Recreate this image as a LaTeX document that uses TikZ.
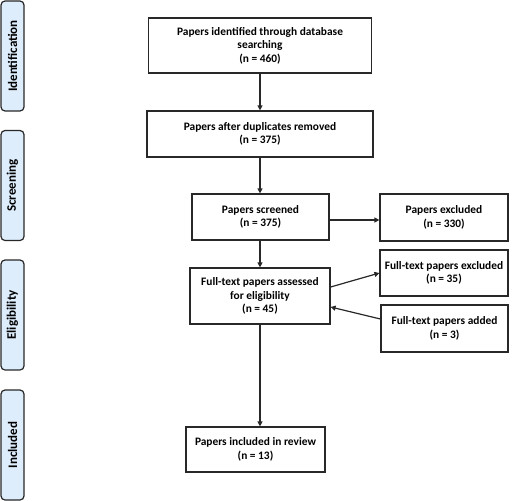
\documentclass[tikz,border=0pt]{standalone}
\usepackage{fontspec}
\setmainfont{Carlito}
\usetikzlibrary{arrows.meta}
\definecolor{sidefill}{RGB}{221,237,252}
\definecolor{boxline}{RGB}{40,40,40}
\begin{document}
\begin{tikzpicture}[x=1pt,y=-1pt,
  flowbox/.style={draw=boxline,line width=1.2pt,fill=white,align=center,inner sep=2pt,
    font=\fontsize{11.4}{13.6}\selectfont\bfseries},
  sidebox/.style={draw=boxline,line width=1.2pt,fill=sidefill,rounded corners=4pt,
    minimum width=23pt,minimum height=110pt,inner sep=0pt},
  sidetext/.style={rotate=90,font=\fontsize{13}{14}\selectfont\bfseries},
  arr/.style={line width=1.2pt,draw=boxline,-{Triangle[length=5pt,width=5pt]}}]
\useasboundingbox (0,0) rectangle (520,501);
% side labels
\node[sidebox] (sid) at (12.5,56) {};
\node[sidetext] (sidt) at (sid.center) {Identification};
\node[sidebox] (sscr) at (12.5,185.5) {};
\node[sidetext] (sscrt) at (sscr.center) {Screening};
\node[sidebox] (selig) at (12.5,315) {};
\node[sidetext] (seligt) at (selig.center) {Eligibility};
\node[sidebox] (sinc) at (12.5,445) {};
\node[sidetext] (sinct) at (sinc.center) {Included};
% main boxes
\node[flowbox,minimum width=223pt,minimum height=55pt] (b1) at (260,45.5)
  {Papers identified through database\\searching\\(n = 460)};
\node[flowbox,minimum width=226pt,minimum height=46pt] (b2) at (260,134)
  {Papers after duplicates removed\\(n = 375)};
\node[flowbox,minimum width=137pt,minimum height=46pt] (b3) at (260.5,217)
  {Papers screened\\(n = 375)};
\node[flowbox,minimum width=128pt,minimum height=47pt] (ex) at (444,217.5)
  {Papers excluded\\(n = 330)};
\node[flowbox,minimum width=140pt,minimum height=56pt] (b4) at (260,296)
  {Full-text papers assessed\\for eligibility\\(n = 45)};
\node[flowbox,minimum width=128pt,minimum height=46pt] (ftex) at (444,273)
  {Full-text papers excluded\\(n = 35)};
\node[flowbox,minimum width=127pt,minimum height=47pt] (ftad) at (444.5,328.5)
  {Full-text papers added\\(n = 3)};
\node[flowbox,minimum width=139pt,minimum height=45pt] (b5) at (255.5,449.5)
  {Papers included in review\\(n = 13)};
% connectors
\draw[arr] (b1.south -| b2.north) -- (b2.north);
\draw[arr] (b2.south) -- (b2.south |- b3.north);
\draw[arr] ([yshift=-3pt]b3.east) -- ([yshift=-3pt]b3.east -| ex.west);
\draw[arr] (b3.south -| b4.north) -- (b4.north);
\draw[arr] ([yshift=9pt]b4.east) -- (ftex.west);
\draw[arr] ([yshift=9.5pt]ftad.west) -- ([yshift=-11pt]b4.east);
\draw[arr] (b4.south) -- (b4.south |- b5.north);
\end{tikzpicture}
\end{document}
